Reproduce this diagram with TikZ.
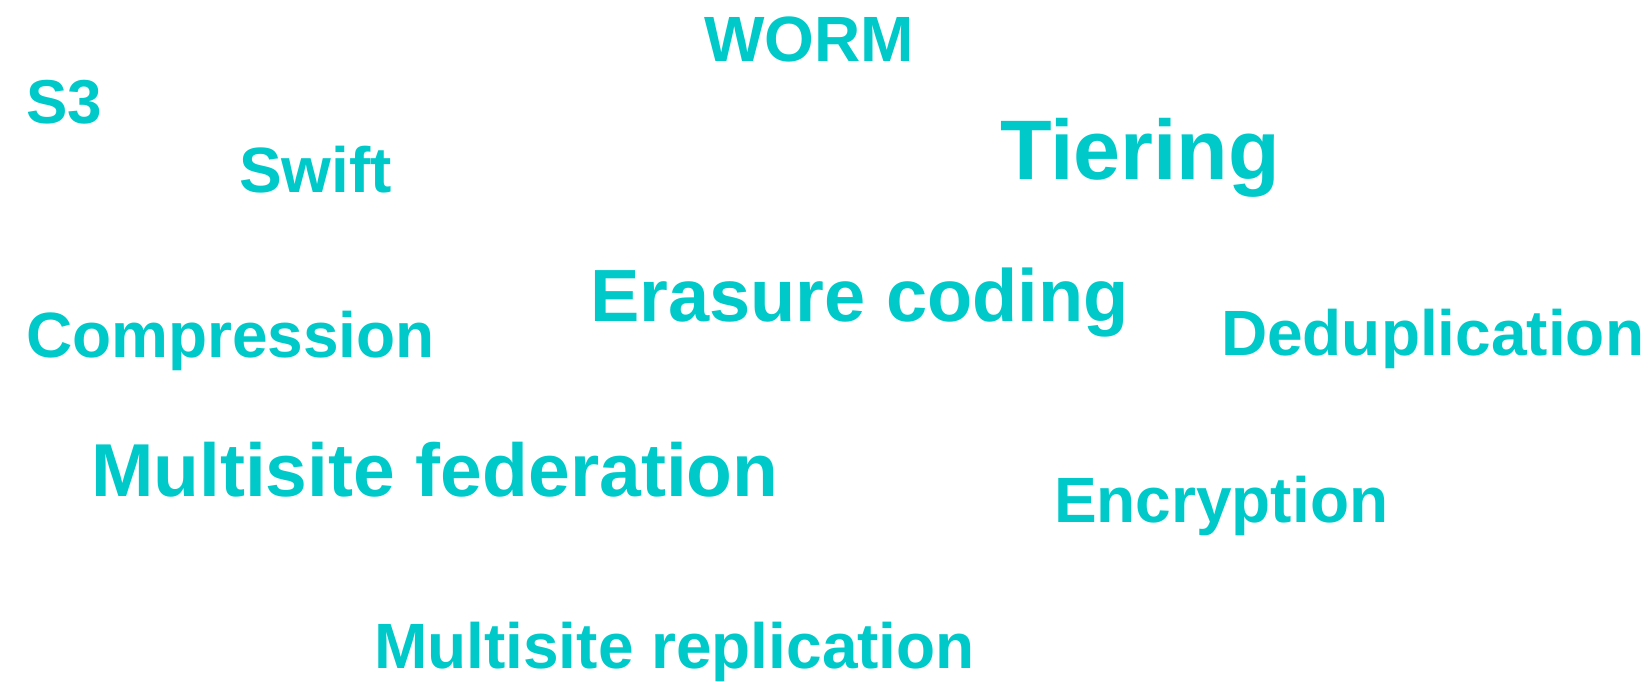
\documentclass[tikz,border=0pt]{standalone}
\usepackage{fontspec}
\setmainfont{Liberation Sans}
\definecolor{tagcyan}{RGB}{0,201,201}
\tikzset{
  tag/.style={anchor=base west, inner sep=0pt, outer sep=0pt, text=tagcyan, font=\bfseries\fontsize{64}{64}\selectfont},
  tagmid/.style={tag, font=\bfseries\fontsize{75}{75}\selectfont},
  tagbig/.style={tag, font=\bfseries\fontsize{84.5}{84.5}\selectfont}
}
\begin{document}
\begin{tikzpicture}[x=1pt,y=-1pt]
\useasboundingbox[fill=white] (0,0) rectangle (1651,682);
\node[tag] (worm) at (704,62) {WORM};
\node[tag, font=\bfseries\fontsize{62}{62}\selectfont] (s3) at (26,124) {S3};
\node[tag] (swift) at (239,192) {Swift};
\node[tagbig] (tiering) at (1000,179) {Tiering};
\node[tagmid, font=\bfseries\fontsize{74}{74}\selectfont] (erasure) at (590,321) {Erasure coding};
\node[tag] (compression) at (26,357) {Compression};
\node[tag] (dedup) at (1221,355) {Deduplication};
\node[tagmid] (federation) at (91,496) {Multisite federation};
\node[tag] (encryption) at (1054,522) {Encryption};
\node[tag] (replication) at (374,668) {Multisite replication};
\end{tikzpicture}
\end{document}
